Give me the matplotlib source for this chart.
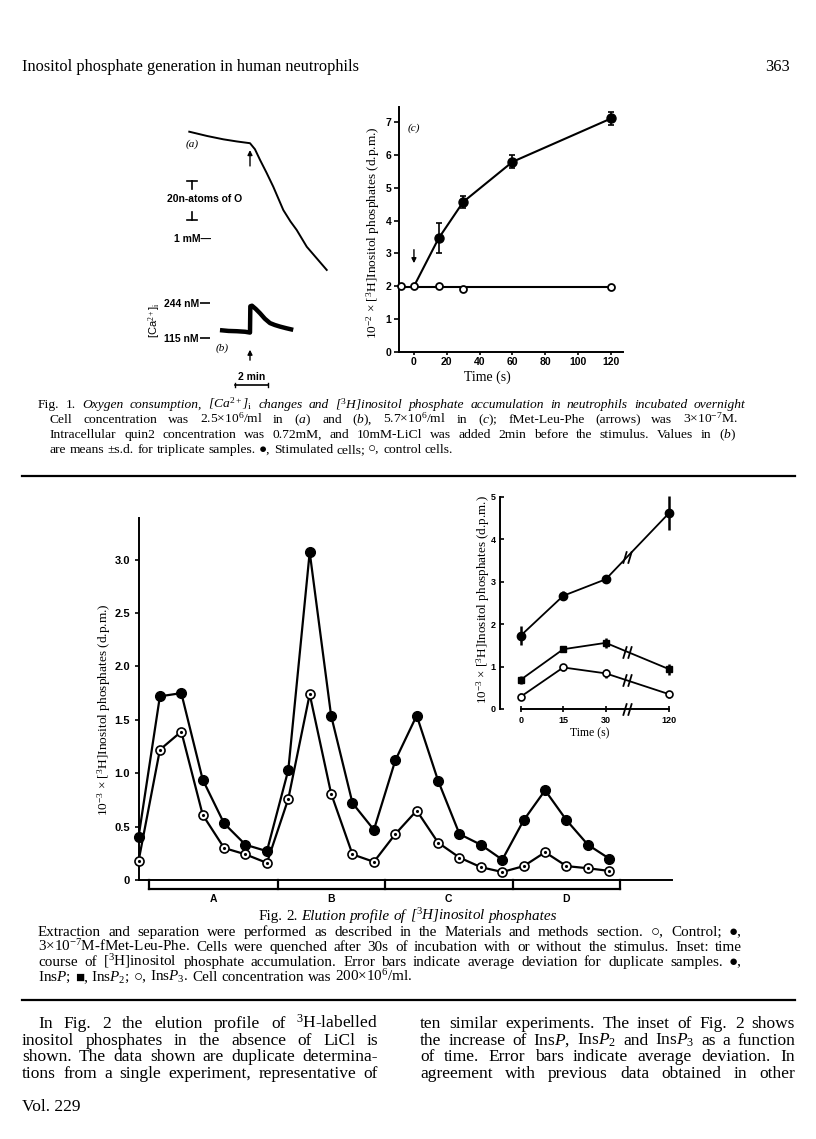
import numpy as np
import matplotlib
matplotlib.use("Agg")
import matplotlib.pyplot as plt
from matplotlib.path import Path
from matplotlib.lines import Line2D

SERIF = ['Liberation Serif', 'DejaVu Serif', 'DejaVu Sans']
SANS = ['Liberation Sans', 'DejaVu Sans']
plt.rcParams['font.family'] = SERIF
plt.rcParams['mathtext.fontset'] = 'custom'
plt.rcParams['mathtext.rm'] = 'Liberation Serif'
plt.rcParams['mathtext.it'] = 'Liberation Serif:italic'
plt.rcParams['mathtext.bf'] = 'Liberation Serif:bold'
plt.rcParams['axes.linewidth'] = 1.4

# ---------------- data ----------------
# Fig. 1(a): O2 consumption trace (n-atoms O consumed) vs time (min); stimulus at t = 0
o2_time = [-3.68, -2.6, -1.62, -0.8, 0.0, 0.3, 0.61, 1.0, 1.41, 2.02, 2.45, 2.83, 3.44, 4.04, 4.65]
o2_consumed = [0.0, 2.2, 3.9, 5.0, 5.9, 9.0, 14.5, 21.0, 28.2, 40.2, 46.0, 50.4, 59.0, 64.9, 70.9]
o2_scale = 20          # n-atoms of O scale bar
# Fig. 1(b): [Ca2+]i trace (nM)
ca_time = [-1.82, -1.3, -0.8, -0.3, 0.0, 0.02, 0.12, 0.35, 0.61, 0.9, 1.21, 1.5, 1.82, 2.2, 2.62]
ca_conc = [144, 141, 140, 138, 135, 232, 234, 222, 206, 186, 170, 163, 157, 151, 145]
ca_ticks = [115, 244]
time_bar = 2           # min
# Fig. 1(c)
c_time_stim = [0, 15, 30, 60, 120]
c_stim = [2.0, 3.46, 4.57, 5.79, 7.11]
c_stim_err = [0.0, 0.46, 0.19, 0.20, 0.20]
c_time_ctrl = [-8, 0, 15, 30, 120]
c_ctrl = [2.0, 2.0, 2.0, 1.93, 1.98]
# Fig. 2 elution profile
fraction = list(range(23))
stim2 = [0.40, 1.72, 1.75, 0.94, 0.53, 0.33, 0.27, 1.03, 3.07, 1.54, 0.72, 0.47, 1.12, 1.54,
         0.93, 0.43, 0.33, 0.19, 0.56, 0.84, 0.56, 0.33, 0.20]
ctrl2 = [0.175, 1.22, 1.39, 0.61, 0.30, 0.24, 0.16, 0.76, 1.74, 0.81, 0.24, 0.17, 0.43, 0.65,
         0.35, 0.21, 0.12, 0.075, 0.13, 0.26, 0.13, 0.11, 0.085]
peak_edges = [0.5, 6.5, 11.5, 17.5, 22.5]
peak_names = ['A', 'B', 'C', 'D']
# Fig. 2 inset
inset_time = [0, 15, 30, 120]
insP = [1.73, 2.67, 3.06, 4.62]
insP_err = [0.23, 0.11, 0.09, 0.41]
insP2 = [0.69, 1.41, 1.56, 0.94]
insP2_err = [0.10, 0.07, 0.12, 0.13]
insP3 = [0.29, 0.98, 0.84, 0.35]
insP3_err = [0.08, 0.08, 0.10, 0.08]
break_time = 60

# ---------------- figure helpers ----------------
W, H = 816, 1139
fig = plt.figure(figsize=(W / 100, H / 100), dpi=100)
R = fig.canvas.get_renderer()
PX = 100 / 72.0


def fy(y):
    return 1 - y / H


def rect(x0, y0, x1, y1):
    return [x0 / W, 1 - y1 / H, (x1 - x0) / W, (y1 - y0) / H]


def ftext(x, y, s, **kw):
    kw.setdefault('ha', 'center')
    kw.setdefault('va', 'center')
    return fig.text(x / W, fy(y), s, **kw)


def fit(t, target, vertical=False):
    bb = t.get_window_extent(R)
    size = bb.height if vertical else bb.width
    t.set_fontsize(t.get_fontsize() * target / size)


def toks(*parts):
    out = []
    for txt, st in parts:
        out += [(w, st) for w in txt.split(' ') if w]
    return out


def natural(tk, fs):
    ws = []
    for w, st in tk:
        t = fig.text(0, 0, w, fontsize=fs, style='italic' if st == 'i' else 'normal')
        ws.append(t.get_window_extent(R).width)
        t.remove()
    return sum(ws) + 0.25 * fs * PX * (len(ws) - 1)


def place(tk, x0, base, fs, x1=None, center=None):
    texts = [fig.text(0, fy(base), w, fontsize=fs, style='italic' if st == 'i' else 'normal',
                      va='baseline', ha='left') for w, st in tk]
    ws = [t.get_window_extent(R).width for t in texts]
    n = len(ws)
    gap = 0.25 * fs * PX
    if x1 is not None and n > 1:
        gap = (x1 - x0 - sum(ws)) / (n - 1)
    total = sum(ws) + gap * (n - 1)
    if center is not None:
        x0 = center - total / 2
    x = x0
    for t, w in zip(texts, ws):
        t.set_x(x / W)
        x += w + gap


def block_size(items, base=10.0, slack=0.99):
    return base * min(slack * (x1 - x0) / natural(tk, base) for tk, x0, x1 in items)


def rule(y):
    fig.add_artist(Line2D([22 / W, 795 / W], [fy(y), fy(y)], lw=1.6, color='k'))


def sans_ticks(ax, size):
    for lab in ax.get_xticklabels() + ax.get_yticklabels():
        lab.set_fontfamily(SANS)
        lab.set_fontweight('bold')
        lab.set_fontsize(size)


# ---------------- header ----------------
hdr = ftext(22, 71, 'Inositol phosphate generation in human neutrophils', ha='left', va='baseline', fontsize=12)
fit(hdr, 335)
ftext(790, 71, '363', ha='right', va='baseline', fontsize=hdr.get_fontsize())

# ---------------- Fig 1 (a) ----------------
px_per_min = 16.5
t_l, t_r = (140 - 250) / px_per_min, (340 - 250) / px_per_min
axa = fig.add_axes(rect(140, 100, 340, 290))
axa.set_xlim(t_l, t_r)
axa.set_ylim((290 - 131.7) / 1.95, (100 - 131.7) / 1.95)
axa.axis('off')
axa.plot(o2_time, o2_consumed, color='k', lw=1.4)
axa.annotate('', xy=(0, 8.0), xytext=(0, 19.0),
             arrowprops=dict(arrowstyle='-|>', color='k', lw=1.0, mutation_scale=7))
sb_t, sb_top = -3.5, 25.3
axa.plot([sb_t - 0.3, sb_t + 0.3], [sb_top, sb_top], 'k-', lw=1.2)
axa.plot([sb_t, sb_t], [sb_top, sb_top + 4.0], 'k-', lw=1.2)
axa.plot([sb_t - 0.3, sb_t + 0.3], [sb_top + o2_scale] * 2, 'k-', lw=1.2)
axa.plot([sb_t, sb_t], [sb_top + o2_scale - 4.0, sb_top + o2_scale], 'k-', lw=1.2)
ftext(192, 144, '(a)', style='italic', fontsize=8)
ftext(205, 199, '20n-atoms of O', family=SANS, fontsize=7.5, weight='bold')
ftext(211, 239, '1 mM—', family=SANS, fontsize=7.5, weight='bold', ha='right')

# ---------------- Fig 1 (b) ----------------
axb = fig.add_axes(rect(140, 290, 340, 400))
axb.set_xlim(t_l, t_r)
axb.set_ylim(115 + (338 - 400) / 0.2713, 115 + (338 - 290) / 0.2713)
axb.patch.set_visible(False)
for s in axb.spines.values():
    s.set_visible(False)
axb.spines['left'].set_position(('data', (210 - 250) / px_per_min))
axb.set_xticks([])
axb.set_yticks(ca_ticks)
axb.set_yticklabels([f'{v} nM' for v in ca_ticks])
axb.tick_params(axis='y', direction='out', length=7, width=1.2, pad=1)
sans_ticks(axb, 7.5)
axb.plot(ca_time, ca_conc, color='k', lw=3.2, solid_capstyle='butt')
axb.annotate('', xy=(0, 82), xytext=(0, 23),
             arrowprops=dict(arrowstyle='-|>', color='k', lw=1.0, mutation_scale=7), annotation_clip=False)
bar_y, bar_t0 = -58, -0.9
axb.plot([bar_t0, bar_t0 + time_bar], [bar_y, bar_y], 'k-', lw=1.2, clip_on=False)
for tt in (bar_t0, bar_t0 + time_bar):
    axb.plot([tt, tt], [bar_y - 8, bar_y + 8], 'k-', lw=1.0, clip_on=False)
axb.text(bar_t0 + time_bar / 2, bar_y + 29, '2 min', ha='center', va='center',
         family=SANS, fontsize=7.5, weight='bold')
ftext(222, 348, '(b)', style='italic', fontsize=8)
ftext(155, 320, r'[Ca$^{2+}$]$_{\rm i}$', family=SANS, fontsize=8, rotation=90)

# ---------------- Fig 1 (c) ----------------
axc = fig.add_axes(rect(399, 107, 623, 352))
axc.set_xlim(-9.1, 127.3)
axc.set_ylim(0, 7.46)
for s in ('top', 'right'):
    axc.spines[s].set_visible(False)
axc.set_xticks(range(0, 121, 20))
axc.set_yticks(range(0, 8))
axc.tick_params(axis='y', direction='out', length=3.5, width=1.2, pad=2)
axc.tick_params(axis='x', direction='out', length=2, width=1.2, pad=1.5)
sans_ticks(axc, 7.5)
axc.plot(c_time_stim, c_stim, 'k-', lw=1.5)
axc.errorbar(c_time_stim[1:], c_stim[1:], yerr=c_stim_err[1:], fmt='o', color='k', ms=6.5,
             capsize=2.5, elinewidth=1.2, capthick=1.2, clip_on=False, zorder=3)
axc.plot([min(c_time_ctrl), max(c_time_ctrl)], [np.mean(c_ctrl)] * 2, 'k-', lw=1.5)
axc.plot(c_time_ctrl, c_ctrl, 'o', mfc='white', mec='k', ms=5, mew=1.3, clip_on=False, zorder=4)
axc.annotate('', xy=(0, 2.62), xytext=(0, 3.2),
             arrowprops=dict(arrowstyle='-|>', color='k', lw=1.0, mutation_scale=7))
ftext(414, 128, '(c)', style='italic', fontsize=8)
ftext(487, 377, 'Time (s)', fontsize=10)
yl = ftext(373, 233, r'10$^{-2}$ × [$^{3}$H]Inositol phosphates (d.p.m.)', rotation=90, fontsize=10)
fit(yl, 213, vertical=True)

# ---------------- Fig 1 caption ----------------
f1 = [
    (toks(('Fig. 1.', 'n'), (r'Oxygen consumption, [Ca$^{2+}$]$_\mathrm{i}$ changes and [$^{3}$H]inositol phosphate accumulation in neutrophils incubated overnight', 'i')), 38, 745, True),
    (toks((r'Cell concentration was 2.5×10$^{6}$/ml in ($\mathit{a}$) and ($\mathit{b}$), 5.7×10$^{6}$/ml in ($\mathit{c}$); fMet-Leu-Phe (arrows) was 3×10$^{-7}$M.', 'n')), 50, 738, True),
    (toks((r'Intracellular quin2 concentration was 0.72mM, and 10mM-LiCl was added 2min before the stimulus. Values in ($\mathit{b}$)', 'n')), 50, 736, True),
    (toks(('are means ±s.d. for triplicate samples. ●, Stimulated cells; ○, control cells.', 'n')), 50, None, False),
]
fs1 = 0.96 * block_size([(tk, a, b) for tk, a, b, j in f1 if j])
for i, (tk, a, b, j) in enumerate(f1):
    place(tk, a, 408 + 15 * i, fs1, x1=b if j else None)
rule(476)

# ---------------- Fig 2 main ----------------
ax2 = fig.add_axes(rect(138.5, 518, 672, 880))
ax2.set_xlim(0, 24.93)
ax2.set_ylim(0, 3.39)
for s in ('top', 'right'):
    ax2.spines[s].set_visible(False)
ax2.set_xticks([])
yt = np.arange(0, 3.01, 0.5)
ax2.set_yticks(yt)
ax2.set_yticklabels(['0' if v == 0 else f'{v:.1f}' for v in yt])
ax2.tick_params(axis='y', direction='out', length=3, width=1.2, pad=3)
sans_ticks(ax2, 8)
ax2.plot(fraction, stim2, '-o', color='k', lw=1.6, ms=7, clip_on=False, zorder=3)
ax2.plot(fraction, ctrl2, '-o', color='k', mfc='white', mec='k', lw=1.6, ms=6.5, mew=1.2,
         clip_on=False, zorder=4)
ax2.plot(fraction, ctrl2, '.', color='k', ms=2.5, clip_on=False, zorder=5)
xt = ax2.get_xaxis_transform()
depth = -0.025
ax2.plot([peak_edges[0], peak_edges[-1]], [depth, depth], 'k-', lw=1.6, transform=xt, clip_on=False)
for e in peak_edges:
    ax2.plot([e, e], [0, depth], 'k-', lw=1.6, transform=xt, clip_on=False)
for i, nm in enumerate(peak_names):
    ax2.text((peak_edges[i] + peak_edges[i + 1]) / 2, -0.053, nm, transform=xt, ha='center',
             va='center', family=SANS, fontsize=7.5, weight='bold')
yl2 = ftext(104, 710, r'10$^{-3}$ × [$^{3}$H]Inositol phosphates (d.p.m.)', rotation=90, fontsize=10)
fit(yl2, 213, vertical=True)

# ---------------- Fig 2 inset ----------------
compress = (52.3 - 30) / 90.0


def tpos(t):
    t = np.asarray(t, float)
    return np.where(t <= 30, t, 30 + (t - 30) * compress)


axi = fig.add_axes(rect(500, 497, 679.5, 709))
axi.set_xlim(-7.3, 56)
axi.set_ylim(0, 5)
for s in ('top', 'right'):
    axi.spines[s].set_visible(False)
axi.spines['bottom'].set_bounds(0, float(tpos(120)))
axi.spines['left'].set_bounds(0, 5)
axi.set_xticks(tpos(inset_time))
axi.set_xticklabels([str(t) for t in inset_time])
axi.set_yticks(range(0, 6))
axi.tick_params(axis='y', direction='in', length=3, width=1.2, pad=3)
axi.tick_params(axis='x', direction='inout', length=4, width=1.2, pad=3)
sans_ticks(axi, 6.5)
xp = tpos(inset_time)
axi.errorbar(xp, insP, yerr=insP_err, fmt='-o', color='k', ms=6, lw=1.3, elinewidth=1.8,
             capsize=0, clip_on=False, zorder=3)
axi.errorbar(xp, insP2, yerr=insP2_err, fmt='-s', color='k', ms=4.5, lw=1.3, elinewidth=1.8,
             capsize=0, clip_on=False, zorder=3)
axi.errorbar(xp, insP3, yerr=insP3_err, fmt='-o', color='k', mfc='white', ms=5, mew=1.2, lw=1.3,
             elinewidth=1.8, capsize=0, clip_on=False, zorder=3)
brk = Path([(-0.7, -1), (-0.1, 1), (0.1, -1), (0.7, 1)],
           [Path.MOVETO, Path.LINETO, Path.MOVETO, Path.LINETO])
bp = float(tpos(break_time))
for series in (insP, insP2, insP3):
    yb = np.interp(bp, xp[2:], series[2:])
    axi.plot([bp], [yb], marker=brk, ms=9, mew=1.3, color='k', mfc='none', zorder=5)
axi.plot([bp], [0], marker=brk, ms=9, mew=1.3, color='k', mfc='none', clip_on=False, zorder=5)
ftext(590, 733, 'Time (s)', fontsize=8.5)
yl3 = ftext(483, 600, r'10$^{-3}$ × [$^{3}$H]Inositol phosphates (d.p.m.)', rotation=90, fontsize=7)
fit(yl3, 210, vertical=True)

# ---------------- Fig 2 caption ----------------
f2 = [
    (toks(('Extraction and separation were performed as described in the Materials and methods section. ○, Control; ●,', 'n')), 38, 742, True),
    (toks((r'3×10$^{-7}$M-fMet-Leu-Phe. Cells were quenched after 30s of incubation with or without the stimulus. Inset: time', 'n')), 38, 742, True),
    (toks((r'course of [$^{3}$H]inositol phosphate accumulation. Error bars indicate average deviation for duplicate samples. ●,', 'n')), 38, 742, True),
    (toks((r'Ins$\mathit{P}$; ■, Ins$\mathit{P}_{2}$; ○, Ins$\mathit{P}_{3}$. Cell concentration was 200×10$^{6}$/ml.', 'n')), 38, None, False),
]
fs2 = 0.96 * block_size([(tk, a, b) for tk, a, b, j in f2 if j])
place(toks(('Fig. 2.', 'n'), (r'Elution profile of [$^{3}$H]inositol phosphates', 'i')), 0, 920, fs2, center=408)
for i, (tk, a, b, j) in enumerate(f2):
    place(tk, a, 936 + 15 * i, fs2, x1=b if j else None)
rule(1000)

# ---------------- body text ----------------
body = [
    (toks((r'In Fig. 2 the elution profile of $^{3}$H-labelled', 'n')), 38, 378),
    (toks(('inositol phosphates in the absence of LiCl is', 'n')), 22, 378),
    (toks(('shown. The data shown are duplicate determina-', 'n')), 22, 378),
    (toks(('tions from a single experiment, representative of', 'n')), 22, 378),
    (toks(('ten similar experiments. The inset of Fig. 2 shows', 'n')), 420, 795),
    (toks((r'the increase of Ins$\mathit{P}$, Ins$\mathit{P}_{2}$ and Ins$\mathit{P}_{3}$ as a function', 'n')), 420, 795),
    (toks(('of time. Error bars indicate average deviation. In', 'n')), 420, 795),
    (toks(('agreement with previous data obtained in other', 'n')), 420, 795),
]
fsb = 0.96 * block_size(body)
for i, (tk, a, b) in enumerate(body):
    place(tk, a, 1028 + 16.7 * (i % 4), fsb, x1=b)
ftext(22, 1111, 'Vol. 229', ha='left', va='baseline', fontsize=fsb)

fig.savefig('out.png', dpi=100)
